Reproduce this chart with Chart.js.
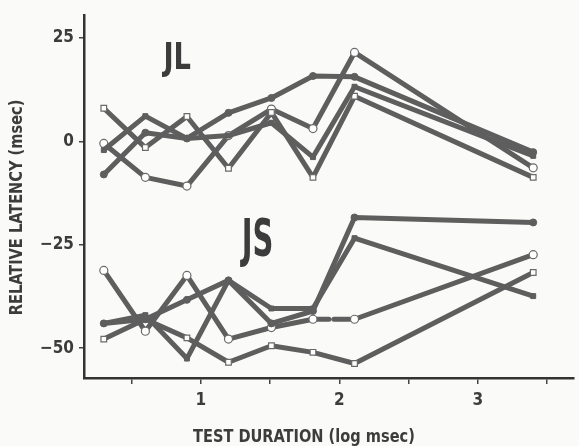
<!DOCTYPE html>
<html>
<head>
<meta charset="utf-8">
<script src="https://cdn.jsdelivr.net/npm/chart.js@4/dist/chart.umd.min.js"></script>
<style>
  html, body { margin: 0; padding: 0; background: #fafaf8; }
  #wrap { width: 579px; height: 446px; }
</style>
</head>
<body>
<div id="wrap"><canvas id="canvas" width="579" height="446"></canvas></div>
<script>
// test durations, log msec (2, 4, 8 ... 128 ms and 2500 ms)
const durations = [0.30, 0.60, 0.90, 1.20, 1.51, 1.81, 2.11, 3.40]

// subject JL
const jlOpenSquare   = [8, -1.5, 6, -6.5, 7, -8.7, 10.9, -8.7]
const jlOpenCircle   = [-0.5, -8.7, -10.8, 1.4, 7.8, 3.1, 21.5, -6.4]
const jlFilledCircle = [-8, 2.1, 0.7, 6.9, 10.5, 15.8, 15.6, -2.6]
const jlFilledSquare = [-2.1, 6.1, 0.7, 1.4, 4.5, -3.8, 13.2, -3.5]

// subject JS
const jsOpenSquare   = [-47.8, -43, -47.5, -53.4, -49.4, -51, -53.7, -31.7]
const jsOpenCircle   = [-31.2, -45.9, -32.4, -47.8, -45, -43, -43, -27.4]
const jsFilledCircle = [-44, -43, -38.3, -33.6, -44, -41, -18.4, -19.6]
const jsFilledSquare = [-44, -42, -52.5, -33.6, -40.4, -40.4, -23.4, -37.4]

const yTicks = [-50, -25, 0, 25]
const xTicks = [0.5, 1, 1.5, 2, 2.5, 3, 3.5]
const xLabels = { 1: '1', 2: '2', 3: '3' }

const ink = '#5e5e5e'
const textInk = '#3c3c3c'
const paper = '#fafaf8'
const font = "'Liberation Sans Narrow', 'DejaVu Sans Condensed', 'Arial Narrow', sans-serif"

function pts(values) {
  return values.map((v, i) => ({ x: durations[i], y: v }))
}

function series(values, marker, extra) {
  const open = marker === 'openCircle' || marker === 'openSquare'
  return Object.assign({
    data: pts(values),
    borderColor: ink,
    borderWidth: 5,
    borderCapStyle: 'round',
    borderJoinStyle: 'round',
    pointStyle: marker.includes('Square') ? 'rect' : 'circle',
    pointRadius: open ? 4 : 3.5,
    pointBackgroundColor: open ? '#ffffff' : ink,
    pointBorderColor: open ? '#6a6a6a' : ink,
    pointBorderWidth: open ? 1.2 : 1,
    tension: 0,
  }, extra || {})
}

const data = {
  datasets: [
    series(jlFilledCircle, 'filledCircle'),
    series(jlFilledSquare, 'filledSquare'),
    series(jlOpenSquare, 'openSquare'),
    series(jlOpenCircle, 'openCircle'),
    series(jsFilledCircle, 'filledCircle'),
    series(jsFilledSquare, 'filledSquare'),
    series(jsOpenSquare, 'openSquare'),
    series(jsOpenCircle, 'openCircle', {
      segment: { borderDash: ctx => ctx.p0DataIndex === 5 ? [16, 5] : undefined },
    }),
  ],
}

// narrow, tall lettering like the original typesetting
function squeezed(c, text, px, py, size, sx) {
  c.save()
  c.translate(px, py)
  c.scale(sx, 1)
  c.font = 'bold ' + size + 'px ' + font
  c.fillText(text, 0, 0)
  c.restore()
}

// paper colour, subject labels and axis titles
const decor = {
  id: 'decor',
  beforeDraw(chart) {
    const c = chart.ctx
    c.save()
    c.fillStyle = paper
    c.fillRect(0, 0, chart.width, chart.height)
    c.restore()
  },
  afterDraw(chart) {
    const c = chart.ctx
    const x = chart.scales.x
    const y = chart.scales.y
    const area = chart.chartArea
    c.save()
    c.fillStyle = textInk
    c.textAlign = 'center'
    c.textBaseline = 'middle'
    squeezed(c, 'JL', x.getPixelForValue(0.83), y.getPixelForValue(20), 38, 0.8)
    squeezed(c, 'JS', x.getPixelForValue(1.41), y.getPixelForValue(-24.5), 52, 0.62)

    squeezed(c, 'TEST DURATION (log msec)', area.left + (area.right - area.left) * 0.449, 437, 18, 0.9)

    c.translate(17, area.top + (area.bottom - area.top) * 0.53)
    c.rotate(-Math.PI / 2)
    squeezed(c, 'RELATIVE LATENCY (msec)', 0, 0, 18, 0.9)
    c.restore()
  },
}

const config = {
  type: 'line',
  data: data,
  plugins: [decor],
  options: {
    responsive: false,
    animation: false,
    layout: { padding: { top: 7, right: 0, left: 0, bottom: 0 } },
    plugins: {
      legend: { display: false },
      tooltip: { enabled: false },
    },
    scales: {
      x: {
        type: 'linear',
        min: 0.157,
        max: 3.693,
        afterBuildTicks: s => { s.ticks = xTicks.map(v => ({ value: v })) },
        afterFit: s => { s.height = 68 },
        grid: { drawOnChartArea: false, tickLength: 6, color: '#444', lineWidth: 1.5 },
        border: { color: '#333', width: 2.5 },
        ticks: {
          autoSkip: false,
          maxRotation: 0,
          padding: 6,
          color: textInk,
          font: { family: font, size: 17, weight: 'bold' },
          callback: v => xLabels[v] || '',
        },
      },
      y: {
        type: 'linear',
        min: -57.2,
        max: 30.5,
        afterBuildTicks: s => { s.ticks = yTicks.map(v => ({ value: v })) },
        afterFit: s => { s.width = 84 },
        grid: { drawOnChartArea: false, tickLength: 5, color: '#444', lineWidth: 1.5 },
        border: { color: '#333', width: 2.5 },
        ticks: {
          padding: 5,
          color: textInk,
          font: { family: font, size: 17, weight: 'bold' },
          callback: v => (v < 0 ? '\u2212' + Math.abs(v) : String(v)),
        },
      },
    },
  },
}

const canvas = document.getElementById('canvas')
const chart = new Chart(canvas, config)
</script>
</body>
</html>
